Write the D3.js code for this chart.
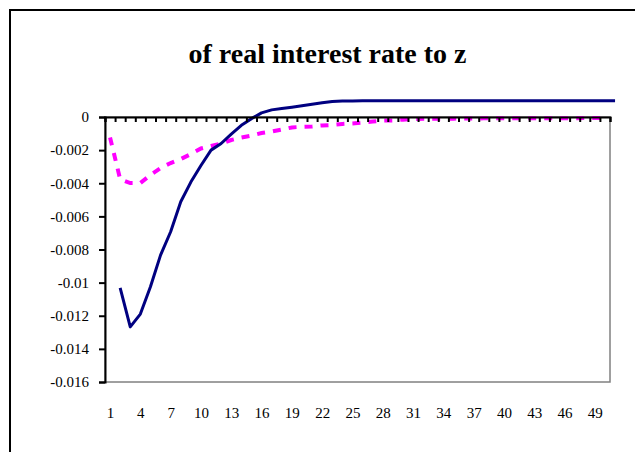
<!DOCTYPE html>
<html>
<head>
<meta charset="utf-8">
<script src="https://cdn.jsdelivr.net/npm/d3@7"></script>
<style>
  body { margin: 0; background: #fff; }
  svg { display: block; }
  text { font-family: "Liberation Serif", "Times New Roman", serif; fill: #000; }
</style>
</head>
<body>
<svg id="chart" width="635" height="452"></svg>
<script>
// Periods along the horizontal axis
const periods = d3.range(1, 51);
const xTickLabels = d3.range(1, 51, 3);
const yTickValues = [0, -0.002, -0.004, -0.006, -0.008, -0.01, -0.012, -0.014, -0.016];

// Response of the real interest rate (solid navy), starts at period 2 and runs one period past the axis
const responseSolid = [
  null, -0.01031, -0.01267, -0.0119, -0.01025, -0.00834, -0.00693, -0.00512, -0.00393, -0.00293,
  -0.0020, -0.0016, -0.00103, -0.0005, -0.0001, 0.00025, 0.00043, 0.00051, 0.00059, 0.00068,
  0.00077, 0.00086, 0.00094, 0.00096, 0.00097, 0.00098, 0.00098, 0.00098, 0.00098, 0.00098,
  0.00098, 0.00098, 0.00098, 0.00098, 0.00098, 0.00098, 0.00098, 0.00098, 0.00098, 0.00098,
  0.00098, 0.00098, 0.00098, 0.00098, 0.00098, 0.00098, 0.00098, 0.00098, 0.00098, 0.00098,
  0.00098
];

// Response of the real interest rate (dashed magenta)
const responseDashed = [
  -0.00124, -0.00375, -0.00399, -0.00399, -0.0035, -0.00308, -0.00278, -0.00254, -0.00224, -0.0019,
  -0.00175, -0.0016, -0.00139, -0.00124, -0.00112, -0.00097, -0.00088, -0.00076, -0.00063, -0.00059,
  -0.00057, -0.00051, -0.00048, -0.00042, -0.00039, -0.00034, -0.00027, -0.00022, -0.00021, -0.00016,
  -0.00012, -0.0001, -0.0001, -0.0001, -0.0001, -0.00009, -0.00009, -0.00008, -0.00008, -0.00008,
  -0.00008, -0.00008, -0.00007, -0.00007, -0.00007, -0.00007, -0.00007, -0.00006, -0.00006, -0.00006
];

const titleText = "of real interest rate to z";

const svg = d3.select("#chart");
const plot = { left: 105, right: 610, top: 117, bottom: 382 };

const x = d3.scaleLinear().domain([0.5, 50.5]).range([plot.left, plot.right]);
const y = d3.scaleLinear().domain([-0.016, 0]).range([plot.bottom, plot.top]);

// Chart frame
svg.append("rect")
  .attr("x", 10).attr("y", 10)
  .attr("width", 700).attr("height", 500)
  .attr("fill", "#fff").attr("stroke", "#000").attr("stroke-width", 2);

// Title
svg.append("text")
  .attr("x", 327.5).attr("y", 63)
  .attr("text-anchor", "middle")
  .style("font-size", "28px").style("font-weight", "bold")
  .text(titleText);

// Plot area border
svg.append("rect")
  .attr("x", plot.left).attr("y", plot.top)
  .attr("width", plot.right - plot.left).attr("height", plot.bottom - plot.top)
  .attr("fill", "none").attr("stroke", "#808080").attr("stroke-width", 1.5);

// Series
const line = d3.line()
  .defined(d => d.v !== null)
  .x(d => x(d.p))
  .y(d => y(d.v));

svg.append("path")
  .datum(responseDashed.map((v, i) => ({ p: i + 1, v })))
  .attr("fill", "none")
  .attr("stroke", "#ff00ff")
  .attr("stroke-width", 4)
  .attr("stroke-dasharray", "8,8")
  .attr("d", line);

svg.append("path")
  .datum(responseSolid.map((v, i) => ({ p: i + 1, v })))
  .attr("fill", "none")
  .attr("stroke", "#000080")
  .attr("stroke-width", 3)
  .attr("stroke-linejoin", "round")
  .attr("d", line);

// Vertical axis
const yAxis = svg.append("g")
  .attr("transform", `translate(${plot.left},0)`)
  .call(d3.axisLeft(y).tickValues(yTickValues).tickSize(6).tickPadding(10)
    .tickFormat(d => String(d)));
yAxis.select(".domain").attr("stroke", "#000").attr("stroke-width", 2);
yAxis.selectAll(".tick line").attr("stroke", "#000").attr("stroke-width", 2);
yAxis.selectAll("text").style("font-size", "15px").attr("fill", "#000");

// Horizontal axis line at zero with category boundary ticks
const xAxis = svg.append("g")
  .attr("transform", `translate(0,${y(0)})`)
  .call(d3.axisBottom(x).tickValues(d3.range(0.5, 51, 1)).tickSize(5).tickFormat(""));
xAxis.select(".domain").attr("stroke", "#000").attr("stroke-width", 2);
xAxis.selectAll(".tick line").attr("stroke", "#000").attr("stroke-width", 2);

// Category labels below the plot
const xLabels = svg.append("g")
  .attr("transform", `translate(0,${plot.bottom})`)
  .call(d3.axisBottom(x).tickValues(xTickLabels).tickSize(0).tickPadding(25)
    .tickFormat(d => String(d)));
xLabels.select(".domain").remove();
xLabels.selectAll("text").style("font-size", "15px").attr("fill", "#000");
</script>
</body>
</html>
